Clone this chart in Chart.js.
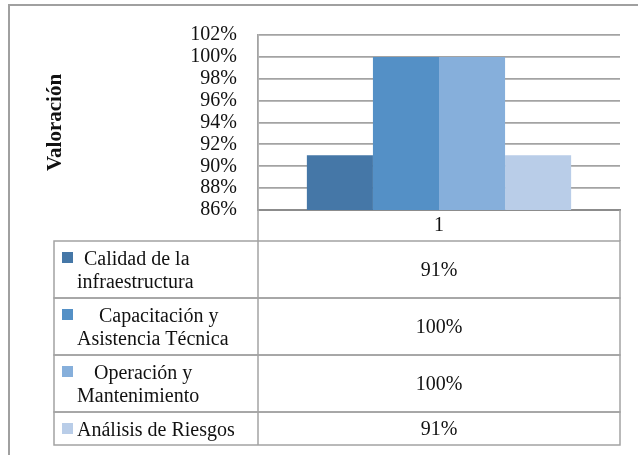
<!DOCTYPE html>
<html>
<head>
<meta charset="utf-8">
<script src="https://cdn.jsdelivr.net/npm/chart.js@4"></script>
<style>
  html, body { margin: 0; padding: 0; background: #fff; }
  canvas { display: block; }
</style>
</head>
<body>
<canvas id="grafico" width="638" height="455"></canvas>
<script>
// Datos del gráfico
const categorias = ['1'];
const series = [
    ' Calidad de la\ninfraestructura',
    '    Capacitación y\nAsistencia Técnica',
    '   Operación y\nMantenimiento',
    'Análisis de Riesgos'
];
const valores = [91, 100, 100, 91];
const colores = ['#4577a7', '#5490c6', '#86afdb', '#b9cde8'];
const ejeY = { min: 86, max: 102, paso: 2 };

const fuente = "'Liberation Serif', 'Times New Roman', serif";
const gris = '#a3a3a3';

// Tabla de datos debajo del gráfico (estilo Excel)
const tablaDatos = {
    id: 'tablaDatos',
    beforeDraw(chart) {
        const c = chart.ctx;
        c.save();
        c.strokeStyle = '#a0a0a0';
        c.lineWidth = 2;
        c.beginPath();
        c.moveTo(9, 455);
        c.lineTo(9, 5);
        c.lineTo(638, 5);
        c.stroke();
        c.restore();
    },
    afterDraw(chart) {
        const c = chart.ctx;
        const area = chart.chartArea;
        const izq = 54;
        const der = area.right;
        const filaCab = area.bottom + 31;
        const alturas = [57, 57, 57, 33];
        c.save();
        c.strokeStyle = gris;
        c.lineWidth = 1.5;
        // cabecera
        c.beginPath();
        c.moveTo(area.left, area.bottom);
        c.lineTo(area.left, filaCab);
        c.moveTo(der, area.bottom);
        c.lineTo(der, filaCab);
        c.stroke();

        let y = filaCab;
        c.font = '20px ' + fuente;
        chart.data.datasets.forEach((ds, i) => {
            const h = alturas[i];
            c.strokeRect(izq, y, der - izq, h);
            c.beginPath();
            c.moveTo(area.left, y);
            c.lineTo(area.left, y + h);
            c.stroke();
            // cuadro de la leyenda
            c.fillStyle = ds.backgroundColor;
            c.fillRect(62, y + 11, 11, 11);
            // texto
            c.fillStyle = '#111';
            c.textAlign = 'left';
            c.textBaseline = 'alphabetic';
            const lineas = ds.label.split('\n');
            lineas.forEach((l, k) => {
                const x = (k === 0 && lineas.length > 1) ? 79 : 77;
                c.fillText(l, x, y + 24 + k * 23);
            });
            // valor
            c.textAlign = 'center';
            c.textBaseline = 'middle';
            c.fillText(ds.data[0] + '%', (area.left + der) / 2, y + h / 2 + 1);
            y += h;
        });
        c.restore();
    }
};

const ctx = document.getElementById('grafico').getContext('2d');
const grafico = new Chart(ctx, {
    type: 'bar',
    data: {
        labels: categorias,
        datasets: series.map((s, i) => ({
            label: s,
            data: [valores[i]],
            backgroundColor: colores[i],
            borderWidth: 0,
            categoryPercentage: 0.73,
            barPercentage: 1.0
        }))
    },
    options: {
        responsive: false,
        animation: false,
        devicePixelRatio: 1,
        layout: { padding: { left: 9, top: 35, right: 18, bottom: 214 } },
        plugins: {
            legend: { display: false },
            tooltip: { enabled: false }
        },
        scales: {
            x: {
                grid: { display: false, drawTicks: false },
                border: { display: true, color: '#8c8c8c', width: 2 },
                ticks: { color: '#111', font: { family: fuente, size: 20 }, padding: 4 },
                afterFit(scale) { scale.height = 31; }
            },
            y: {
                min: ejeY.min,
                max: ejeY.max,
                grid: { color: gris, lineWidth: 1.8, drawTicks: false },
                border: { display: true, color: gris, width: 1.8 },
                ticks: {
                    stepSize: ejeY.paso,
                    autoSkip: false,
                    padding: 21,
                    color: '#111',
                    font: { family: fuente, size: 20 },
                    callback: v => v + '%'
                },
                title: {
                    display: true,
                    text: 'Valoración',
                    color: '#111',
                    font: { family: fuente, size: 21, weight: 'bold' },
                    padding: { top: 34, bottom: 0 }
                },
                afterFit(scale) { scale.width = 249; }
            }
        }
    },
    plugins: [tablaDatos]
});
</script>
</body>
</html>
